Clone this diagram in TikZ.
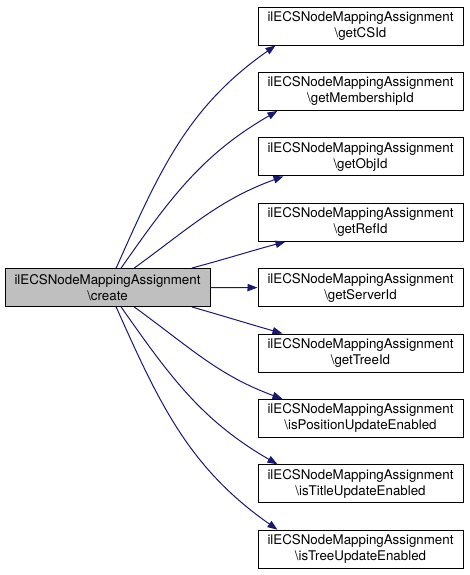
\documentclass[tikz,border=0pt]{standalone}
\usepackage{fontspec}
\setmainfont{TeX Gyre Heros}
\usetikzlibrary{arrows.meta}

\definecolor{edgeblue}{HTML}{191970}

\tikzset{
	fn/.style={draw=black, fill=white, line width=0.75pt, align=center, inner sep=0pt,
		minimum width=153.75pt, minimum height=28.5pt,
		font=\fontsize{10}{12}\selectfont},
	rootfn/.style={fn, fill=black!25},
	calledge/.style={->, draw=edgeblue, line width=0.75pt, > = {Triangle[length=7.5pt,width=5.5pt]}}
}

\begin{document}
\begin{tikzpicture}[x=0.75pt, y=0.75pt]

			\useasboundingbox (0,0) rectangle (469,-575);

			\node[rootfn] (create) at (107.5,-287.5) {ilECSNodeMappingAssignment\\\textbackslash create};

			\foreach \nm/\fun [count=\i from 0] in {csid/getCSId, memid/getMembershipId, objid/getObjId, refid/getRefId, serverid/getServerId, treeid/getTreeId, posupd/isPositionUpdateEnabled, titleupd/isTitleUpdateEnabled, treeupd/isTreeUpdateEnabled}
			{
				\node[fn] (\nm) at (360.5,{-26-65.4*\i}) {ilECSNodeMappingAssignment\\\textbackslash\fun};
			}

			\foreach \nm/\from/\anc/\shift/\o/\in in {csid/66/south west/18/66/215, memid/55/south west/20/55/210, objid/36/south west/26/36/200, refid/13/south west/28/15/195, treeid/-13/north west/25/-16/164, posupd/-36/north west/25/-36/160, titleupd/-55/north west/20/-55/150, treeupd/-66/north west/20/-66/145}
			{
				\draw[calledge] (create.\from) to[out=\o, in=\in] ([xshift=\shift*0.75pt]\nm.\anc);
			}
			\draw[calledge] (create.east) -- (serverid.west);
		\end{tikzpicture}
\end{document}
